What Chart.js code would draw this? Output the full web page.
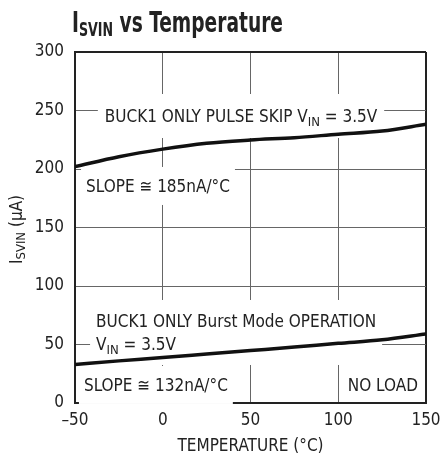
<!DOCTYPE html>
<html>
<head>
<meta charset="utf-8">
<script src="https://cdn.jsdelivr.net/npm/chart.js@4.4.1/dist/chart.umd.min.js"></script>
<style>
  html, body { margin: 0; padding: 0; background: #fff; }
  #wrap { width: 440px; height: 459px; position: relative; }
</style>
</head>
<body>
<div id="wrap"><canvas id="chart" width="440" height="459"></canvas></div>
<script>
// data
const temps = [-50, -25, 0, 25, 50, 75, 100, 125, 150];
const pulseSkip = [202, 210.5, 217, 222, 224.8, 226.8, 229.7, 232.4, 238.2];
const burstMode = [33, 36, 38.8, 41.8, 44.8, 47.8, 51, 54, 59];
const xTicks = [-50, 0, 50, 100, 150];
const yTicks = [0, 50, 100, 150, 200, 250, 300];

const FONT = '"Liberation Sans Narrow", "DejaVu Sans Condensed", "Arial Narrow", sans-serif';
const INK = "#222";

/* ----- notes placed in data units (x = °C, y = µA) ----- */
const notes = [
  { lines: ["BUCK1 ONLY PULSE SKIP V_{IN} = 3.5V"], x: -33, y: 245.3, padX: 7, padY: 16 },
  { lines: ["SLOPE \u2245 185nA/\u00B0C"], x: -43.7, y: 185.5, padX: 5, padY: 13 },
  { lines: ["BUCK1 ONLY Burst Mode OPERATION", "V_{IN} = 3.5V"], x: -38, y: 70.1, padX: 6, padY: 15, lineGap: 23 },
  { lines: ["SLOPE \u2245 132nA/\u00B0C"], x: -44.9, y: 15.4, padX: 5, padY: 13 },
  { lines: ["NO LOAD"], x: 145.4, y: 15.4, padX: 4, padY: 10, align: "right" }
];

// split "V_{IN}" into runs
function runs(str) {
  const out = [];
  str.split(/(_\{[^}]*\})/).forEach(part => {
    if (!part) return;
    if (part.startsWith("_{")) out.push({ t: part.slice(2, -1), sub: true });
    else out.push({ t: part, sub: false });
  });
  return out;
}

function richWidth(ctx, str, size, subSize, weight) {
  let w = 0;
  runs(str).forEach(r => {
    ctx.font = weight + " " + (r.sub ? subSize : size) + "px " + FONT;
    w += ctx.measureText(r.t).width;
  });
  return w;
}

function drawRich(ctx, str, x, y, size, subSize, subDrop, weight) {
  let cx = x;
  runs(str).forEach(r => {
    ctx.font = weight + " " + (r.sub ? subSize : size) + "px " + FONT;
    ctx.fillText(r.t, cx, r.sub ? y + subDrop : y);
    cx += ctx.measureText(r.t).width;
  });
}

const notesPlugin = {
  id: "notes",
  beforeDatasetsDraw(chart) {
    const ctx = chart.ctx;
    const xs = chart.scales.x, ys = chart.scales.y;
    ctx.save();
    ctx.textBaseline = "alphabetic";
    notes.forEach(n => {
      const gap = n.lineGap || 0;
      const widths = n.lines.map(l => richWidth(ctx, l, 17, 13, "normal"));
      const w = Math.max(...widths);
      let left = xs.getPixelForValue(n.x);
      if (n.align === "right") left -= w;
      const cy = ys.getPixelForValue(n.y);
      const top = cy - 6 - n.padY;
      const bottom = cy + 6 + gap * (n.lines.length - 1) + n.padY;
      ctx.fillStyle = "#fff";
      ctx.fillRect(left - n.padX, top, w + 2 * n.padX, bottom - top);
      ctx.fillStyle = INK;
      n.lines.forEach((l, i) => {
        drawRich(ctx, l, left, cy + 6 + gap * i, 17, 13, 4, "normal");
      });
    });
    ctx.restore();
  },
  afterDraw(chart) {
    const ctx = chart.ctx;
    const ys = chart.scales.y;
    ctx.save();
    ctx.fillStyle = INK;
    ctx.textBaseline = "alphabetic";
    // main title, squeezed to the condensed width of the original
    const title = "I_{SVIN} vs Temperature";
    const tw = richWidth(ctx, title, 28, 19, "bold");
    ctx.save();
    ctx.translate(72, 32);
    ctx.scale(211 / tw, 1);
    drawRich(ctx, title, 0, 0, 28, 19, 4, "bold");
    ctx.restore();
    // y axis title, rotated
    const label = "I_{SVIN} (\u00B5A)";
    const w = richWidth(ctx, label, 17, 13, "normal");
    const cy = (ys.top + ys.bottom) / 2 + 2;
    ctx.translate(22, cy);
    ctx.rotate(-Math.PI / 2);
    drawRich(ctx, label, -w / 2, 0, 17, 13, 3, "normal");
    ctx.restore();
  }
};

const isEdge = (ctx, v) => ctx.tick && ctx.tick.value === v;

new Chart(document.getElementById("chart"), {
  type: "line",
  data: {
    labels: temps,
    datasets: [
      { label: "Pulse skip", data: temps.map((t, i) => ({ x: t, y: pulseSkip[i] })) },
      { label: "Burst Mode", data: temps.map((t, i) => ({ x: t, y: burstMode[i] })) }
    ]
  },
  options: {
    responsive: false,
    animation: false,
    devicePixelRatio: 1,
    layout: { padding: { top: 52, right: 14, left: 0, bottom: 0 } },
    elements: {
      line: { borderColor: "#111", borderWidth: 3.5, cubicInterpolationMode: "monotone", fill: false },
      point: { radius: 0 }
    },
    plugins: {
      legend: { display: false },
      tooltip: { enabled: false },
      title: { display: false }
    },
    scales: {
      x: {
        type: "linear",
        min: -50, max: 150,
        afterFit: s => { s.height = 56; s.paddingLeft = 0; s.paddingRight = 0; },
        afterBuildTicks: s => { s.ticks = xTicks.map(v => ({ value: v })); },
        grid: {
          drawTicks: false,
          color: c => isEdge(c, 150) ? INK : "#666",
          lineWidth: c => isEdge(c, 150) ? 2 : 1
        },
        border: { color: INK, width: 2 },
        ticks: {
          color: INK,
          padding: 7,
          maxRotation: 0,
          font: { family: FONT, size: 17 },
          callback: v => v < 0 ? "\u2013" + Math.abs(v) : String(v)
        },
        title: {
          display: true,
          text: "TEMPERATURE (\u00B0C)",
          color: INK,
          font: { family: FONT, size: 17 },
          padding: { top: 0, bottom: 2 }
        }
      },
      y: {
        min: 0, max: 300,
        afterFit: s => { s.width = 75; s.paddingTop = 0; s.paddingBottom = 0; },
        afterBuildTicks: s => { s.ticks = yTicks.map(v => ({ value: v })); },
        grid: {
          drawTicks: false,
          color: c => isEdge(c, 300) ? INK : "#666",
          lineWidth: c => isEdge(c, 300) ? 2 : 1
        },
        border: { color: INK, width: 2 },
        ticks: {
          color: INK,
          padding: 11,
          font: { family: FONT, size: 17 }
        }
      }
    }
  },
  plugins: [notesPlugin]
});
</script>
</body>
</html>
